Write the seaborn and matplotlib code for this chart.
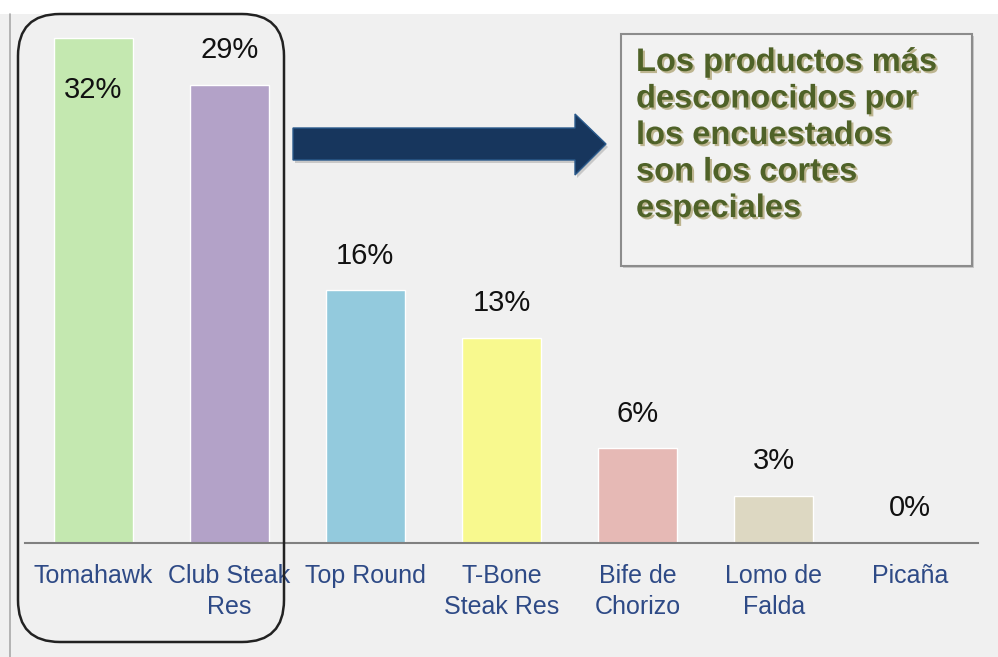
import numpy as np
import pandas as pd
import seaborn as sns
import matplotlib.pyplot as plt
from matplotlib.patches import FancyBboxPatch, Polygon, Rectangle
from matplotlib.transforms import IdentityTransform
import matplotlib.patheffects as pe

# Datos del grafico
categorias = ['Tomahawk', 'Club Steak\nRes', 'Top Round', 'T-Bone\nSteak Res',
              'Bife de\nChorizo', 'Lomo de\nFalda', 'Picaña']
valores = [32, 29, 16, 13, 6, 3, 0]
etiquetas = ['32%', '29%', '16%', '13%', '6%', '3%', '0%']
colores = ['#c4e8b0', '#b3a2c8', '#93cadd', '#f8f98e', '#e6b9b5', '#ddd8c2', '#f0f0f0']
nota = 'Los productos más\ndesconocidos por\nlos encuestados\nson los cortes\nespeciales'

df = pd.DataFrame({'corte': categorias, 'pct': valores})

sns.set_style('white')
plt.rcParams['font.family'] = ['Liberation Sans', 'DejaVu Sans']

W, H = 998, 657
fig = plt.figure(figsize=(W / 100, H / 100), dpi=100, facecolor='white')
# fondo gris bajo la franja blanca superior
fig.patches.append(Rectangle((0, 0), 1, (H - 14) / H, transform=fig.transFigure,
                             facecolor='#f0f0f0', edgecolor='none', zorder=-10))

ax = fig.add_axes([25 / W, 114 / H, 953 / W, 529 / H])
ax.set_facecolor('none')
sns.barplot(data=df, x='corte', y='pct', hue='corte', palette=colores,
            width=0.58, legend=False, ax=ax, saturation=1)
ax.set_xlim(-0.5, 6.5)
ax.set_ylim(0, 33.5)

# etiquetas de porcentaje
for i, (v, t) in enumerate(zip(valores, etiquetas)):
    dy = -38 if i == 0 else 25
    ax.annotate(t, (i, v), xytext=(0, dy), textcoords='offset points',
                ha='center', va='center', fontsize=21, color='#111111')

ax.set_xlabel('')
ax.set_ylabel('')
ax.set_yticks([])
ax.tick_params(axis='x', length=0, pad=15)
for lab in ax.get_xticklabels():
    lab.set_fontsize(18)
    lab.set_color('#2e4a86')
    lab.set_linespacing(1.4)
    lab.set_multialignment('center')
sns.despine(ax=ax, left=True, top=True, right=True)
ax.spines['bottom'].set_color('#808080')
ax.spines['bottom'].set_linewidth(1.5)

ident = IdentityTransform()

# linea vertical izquierda
fig.add_artist(plt.Line2D([10, 10], [0, H - 14], transform=ident,
                          color='#a8a8a8', linewidth=1.2))

# rectangulo redondeado alrededor de las dos primeras barras
fig.add_artist(FancyBboxPatch((18, H - 642), 266, 628,
                              boxstyle='round,pad=0,rounding_size=42',
                              transform=ident, facecolor='none',
                              edgecolor='#222222', linewidth=1.8, zorder=5))

# flecha
pts = np.array([[293, 128], [575, 128], [575, 114], [606, 144],
                [575, 175], [575, 160], [293, 160]], dtype=float)
pts[:, 1] = H - pts[:, 1]
sombra = pts + np.array([2, -3])
fig.add_artist(Polygon(sombra, closed=True, transform=ident,
                       facecolor='#c8c8c8', edgecolor='none', zorder=4))
fig.add_artist(Polygon(pts, closed=True, transform=ident,
                       facecolor='#17365d', edgecolor='#2a5a8c', linewidth=1, zorder=5))

# cuadro de texto
fig.add_artist(Rectangle((623, H - 268), 351, 232, transform=ident,
                         facecolor='#c8c8c8', edgecolor='none', zorder=4))
fig.add_artist(Rectangle((621, H - 266), 351, 232, transform=ident,
                         facecolor='#f2f2f2', edgecolor='#8c8c8c',
                         linewidth=1.5, zorder=5))
fig.text(636 / W, 1 - 47 / H, nota, ha='left', va='top', fontsize=23.5,
         fontweight='bold', color='#4f6228', linespacing=1.23, zorder=6,
         path_effects=[pe.withSimplePatchShadow(offset=(1.5, -1.5),
                                                 shadow_rgbFace='#8a7a30', alpha=0.5)])

fig.savefig('out.png', dpi=100, facecolor='white')
